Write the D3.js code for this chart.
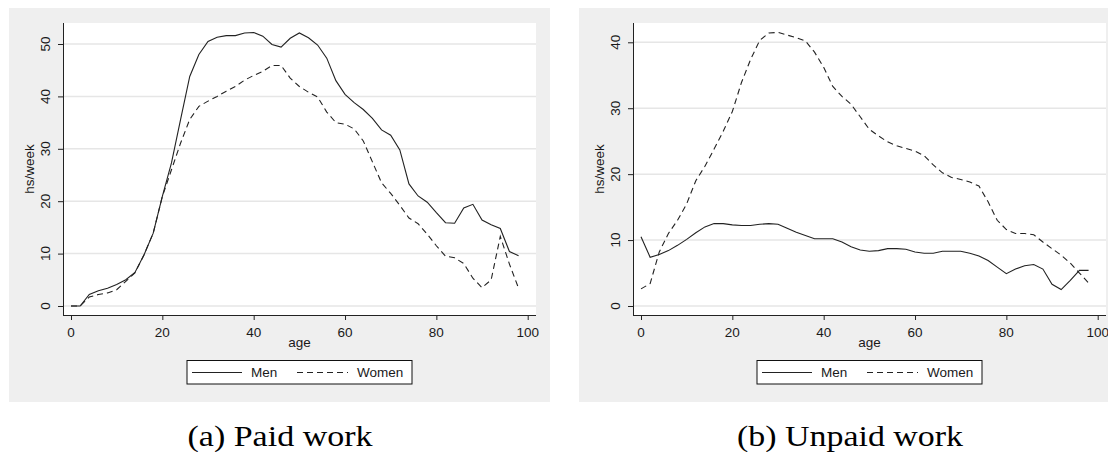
<!DOCTYPE html>
<html lang="en">
<head>
  <meta charset="UTF-8">
  <title>Paid and unpaid work by age</title>
  <style>
    html, body {
      margin: 0;
      padding: 0;
      background: white;
    }
    svg {
      display: block;
    }
    .tick-label, .axis-title, .legend-label {
      font-family: "Liberation Sans", Arial, sans-serif;
      font-size: 13.5px;
      fill: #1a1a1a;
    }
    .caption {
      font-family: "Liberation Serif", "Times New Roman", serif;
      font-size: 30px;
      fill: black;
    }
  </style>
</head>
<body>
  <script src="https://d3js.org/d3.v7.min.js"></script>
  <script>
    // ages every 2 years
    const ages = [0, 2, 4, 6, 8, 10, 12, 14, 16, 18, 20, 22, 24, 26, 28, 30, 32, 34, 36, 38,
      40, 42, 44, 46, 48, 50, 52, 54, 56, 58, 60, 62, 64, 66, 68, 70, 72, 74, 76, 78,
      80, 82, 84, 86, 88, 90, 92, 94, 96, 98];

    // paid work, hours per week
    const paidMen = [0, 0, 2.2, 2.9, 3.4, 4.1, 5.0, 6.4, 9.8, 13.9, 20.9, 27.3, 35.6, 43.8, 48.0, 50.5, 51.3, 51.6, 51.6, 52.1,
      52.2, 51.5, 49.9, 49.4, 51.1, 52.1, 51.2, 49.8, 47.3, 43.0, 40.4, 38.8, 37.5, 35.8, 33.6, 32.6, 29.8, 23.3, 21.0, 19.8,
      17.8, 15.9, 15.8, 18.7, 19.4, 16.4, 15.5, 14.8, 10.4, 9.6];
    const paidWomen = [0, 0, 1.7, 2.2, 2.5, 3.1, 4.7, 6.3, 9.8, 13.9, 20.9, 26.0, 31.1, 35.6, 38.1, 39.1, 40.0, 41.0, 41.9, 43.1,
      44.0, 44.8, 45.9, 45.9, 43.5, 41.9, 40.8, 39.9, 37.0, 35.0, 34.7, 33.8, 31.5, 27.5, 23.5, 21.5, 19.2, 16.8, 15.7, 13.7,
      11.5, 9.5, 9.2, 8.1, 5.3, 3.5, 5.0, 13.3, 8.0, 3.4];

    // unpaid work, hours per week
    const unpaidMen = [10.5, 7.4, 7.8, 8.4, 9.2, 10.1, 11.1, 12.0, 12.5, 12.5, 12.3, 12.2, 12.2, 12.4, 12.5, 12.4, 11.8, 11.2, 10.7, 10.2,
      10.2, 10.2, 9.7, 9.0, 8.5, 8.3, 8.4, 8.7, 8.7, 8.6, 8.2, 8.0, 8.0, 8.3, 8.3, 8.3, 8.0, 7.6, 6.9, 5.9,
      4.9, 5.6, 6.1, 6.3, 5.6, 3.3, 2.5, 3.9, 5.4, 5.4];
    const unpaidWomen = [2.6, 3.4, 8.2, 11.0, 13.0, 15.5, 19.0, 21.2, 23.8, 26.5, 29.5, 33.9, 37.4, 40.3, 41.4, 41.5, 41.1, 40.7, 40.2, 38.5,
      36.2, 33.3, 31.8, 30.6, 28.7, 26.8, 25.8, 24.9, 24.3, 23.9, 23.5, 22.8, 21.4, 20.2, 19.5, 19.2, 18.8, 18.2, 15.8, 13.0,
      11.6, 11.0, 11.0, 10.8, 9.7, 8.7, 7.7, 6.5, 5.0, 3.5];

    const xTicks = [0, 20, 40, 60, 80, 100];
    const paidTicks = [0, 10, 20, 30, 40, 50];
    const unpaidTicks = [0, 10, 20, 30, 40];
    const seriesNames = ['Men', 'Women'];
    const captions = ['(a) Paid work', '(b) Unpaid work'];

    const width = 1108;
    const height = 452;

    const svg = d3.select('body')
      .append('svg')
      .attr('width', width)
      .attr('height', height);

    // draw one Stata style panel, shifted by dx
    function drawPanel(dx, menVals, womenVals, yTicks, yTop, caption) {
      const g = svg.append('g').attr('transform', `translate(${dx},0)`);

      // outer gray graph region
      g.append('rect')
        .attr('x', 9).attr('y', 8)
        .attr('width', 541).attr('height', 394)
        .attr('fill', '#efefef');

      // white plot region
      const plotL = 63, plotR = 536, plotT = 23, plotB = 315;
      g.append('rect')
        .attr('x', plotL).attr('y', plotT)
        .attr('width', plotR - plotL).attr('height', plotB - plotT)
        .attr('fill', 'white');

      const x = d3.scaleLinear().domain([0, 100]).range([71, 527.7]);
      const y = d3.scaleLinear().domain([0, yTop]).range([306, yTop === 50 ? 44 : 42.3]);

      // gridlines
      g.selectAll('.grid')
        .data(yTicks)
        .enter()
        .append('line')
        .attr('x1', plotL).attr('x2', plotR)
        .attr('y1', d => y(d)).attr('y2', d => y(d))
        .attr('stroke', '#e6e6e6')
        .attr('stroke-width', 1.5);

      // axes
      const yAxis = d3.axisLeft(y).tickValues(yTicks).tickSize(5).tickFormat('');
      g.append('g')
        .attr('transform', `translate(${plotL},0)`)
        .call(yAxis)
        .call(a => a.select('.domain').remove());
      g.append('line')
        .attr('x1', plotL + 0.5).attr('x2', plotL + 0.5)
        .attr('y1', plotT).attr('y2', plotB)
        .attr('stroke', '#222');

      const xAxis = d3.axisBottom(x).tickValues(xTicks).tickSize(5).tickFormat('');
      g.append('g')
        .attr('transform', `translate(0,${plotB})`)
        .call(xAxis)
        .call(a => a.select('.domain').remove());
      g.append('line')
        .attr('x1', plotL).attr('x2', plotR)
        .attr('y1', plotB + 0.5).attr('y2', plotB + 0.5)
        .attr('stroke', '#222');
      g.selectAll('.tick line').attr('stroke', '#222');

      // tick labels
      g.selectAll('.ylab')
        .data(yTicks)
        .enter()
        .append('text')
        .attr('class', 'tick-label')
        .attr('text-anchor', 'middle')
        .attr('transform', d => `translate(49.5,${y(d)}) rotate(-90)`)
        .text(d => d);

      g.selectAll('.xlab')
        .data(xTicks)
        .enter()
        .append('text')
        .attr('class', 'tick-label')
        .attr('text-anchor', 'middle')
        .attr('x', d => x(d))
        .attr('y', 336.5)
        .text(d => d);

      // axis titles
      g.append('text')
        .attr('class', 'axis-title')
        .attr('text-anchor', 'middle')
        .attr('transform', `translate(33.5,${(plotT + plotB) / 2}) rotate(-90)`)
        .text('hs/week');
      g.append('text')
        .attr('class', 'axis-title')
        .attr('text-anchor', 'middle')
        .attr('x', (plotL + plotR) / 2)
        .attr('y', 347)
        .text('age');

      // lines
      const line = vals => d3.line()
        .x((d, i) => x(ages[i]))
        .y(d => y(d))(vals);

      g.append('path')
        .attr('d', line(womenVals))
        .attr('fill', 'none')
        .attr('stroke', '#222')
        .attr('stroke-width', 1.1)
        .attr('stroke-dasharray', '6,4');
      g.append('path')
        .attr('d', line(menVals))
        .attr('fill', 'none')
        .attr('stroke', '#222')
        .attr('stroke-width', 1.1);

      // legend
      g.append('rect')
        .attr('x', 187).attr('y', 360.5)
        .attr('width', 225).attr('height', 23.5)
        .attr('fill', 'white')
        .attr('stroke', '#111');
      const legendX = [[192, 242, 251], [297, 348, 357]];
      seriesNames.forEach((name, i) => {
        g.append('line')
          .attr('x1', legendX[i][0]).attr('x2', legendX[i][1])
          .attr('y1', 372.5).attr('y2', 372.5)
          .attr('stroke', '#222')
          .attr('stroke-width', 1.1)
          .attr('stroke-dasharray', i === 1 ? '6,4' : null);
        g.append('text')
          .attr('class', 'legend-label')
          .attr('x', legendX[i][2])
          .attr('y', 377)
          .text(name);
      });

      // caption under the panel
      g.append('text')
        .attr('class', 'caption')
        .attr('text-anchor', 'middle')
        .attr('x', 280)
        .attr('y', 446)
        .attr('textLength', caption.length > 13 ? 226 : 185)
        .attr('lengthAdjust', 'spacingAndGlyphs')
        .text(caption);
    }

    drawPanel(0, paidMen, paidWomen, paidTicks, 50, captions[0]);
    drawPanel(570, unpaidMen, unpaidWomen, unpaidTicks, 40, captions[1]);
  </script>
</body>
</html>
